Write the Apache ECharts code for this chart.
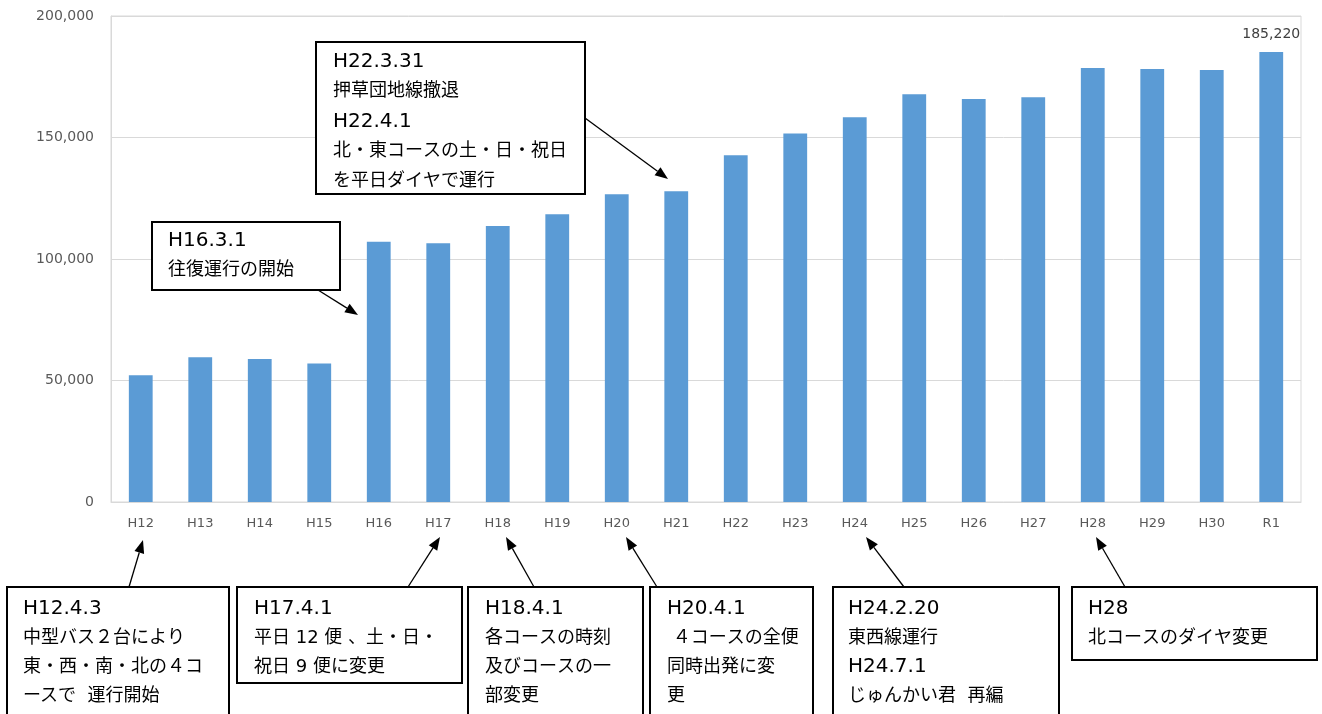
<!DOCTYPE html>
<html><head><meta charset="utf-8">
<script src="https://cdn.jsdelivr.net/npm/echarts@6/dist/echarts.min.js"></script>
<style>html,body{margin:0;padding:0;background:#fff}#c{width:1322px;height:714px}</style>
</head><body><div id="c"></div>
<script>
const categories = ['H12','H13','H14','H15','H16','H17','H18','H19','H20','H21','H22','H23','H24','H25','H26','H27','H28','H29','H30','R1'];
const riders = [52200,59600,58800,57000,107100,106500,113600,118400,126600,127900,142700,151600,158300,167800,165800,166600,178600,178200,177800,185220];
const yTicks = [0,50000,100000,150000,200000];

const JP = '"DejaVu Sans", "Noto Sans CJK JP", sans-serif';
const chart = echarts.init(document.getElementById('c'));

function box(x, y, w, h, lines, tx, ty, lh) {
  const txt = lines.map(l => (/^[A-Z0-9.]+$/.test(l) ? '{h|' : '{n|') + l + '}').join('\n');
  return [
    {type:'rect', shape:{x:x, y:y, width:w, height:h}, style:{fill:'#fff', stroke:'#000', lineWidth:2}, z:10},
    {type:'text', x:tx, y:ty, style:{text:txt, fill:'#000', verticalAlign:'top',
      rich:{
        h:{fontSize:20, fontFamily:'"DejaVu Sans", sans-serif', lineHeight:lh, fill:'#000'},
        n:{fontSize:18, fontFamily:JP, lineHeight:lh, fill:'#000'}
      }}, z:11}
  ];
}
function arrow(x1, y1, x2, y2) {
  const a = Math.atan2(y2 - y1, x2 - x1), L = 13, W = 5;
  const bx = x2 - L * Math.cos(a), by = y2 - L * Math.sin(a);
  const px = -Math.sin(a) * W, py = Math.cos(a) * W;
  return [
    {type:'line', shape:{x1:x1, y1:y1, x2:bx, y2:by}, style:{stroke:'#000', lineWidth:1.3}, z:12},
    {type:'polygon', shape:{points:[[x2,y2],[bx+px,by+py],[bx-px,by-py]]}, style:{fill:'#000'}, z:12}
  ];
}

const graphics = [].concat(
  box(316, 42, 269, 152, ['H22.3.31','押草団地線撤退','H22.4.1','北・東コースの土・日・祝日','を平日ダイヤで運行'], 333, 46.5, 30),
  arrow(585, 118, 668, 179),
  box(152, 222, 188, 68, ['H16.3.1','往復運行の開始'], 168, 226.5, 29),
  arrow(318, 290, 358, 315),
  box(7, 587, 222, 140, ['H12.4.3','中型バス２台により','東・西・南・北の４コ','ースで  運行開始'], 23, 594.5, 29),
  arrow(129, 587, 143, 540),
  box(237, 587, 225, 96, ['H17.4.1','平日 12 便 、土・日・','祝日 9 便に変更'], 254, 594.5, 29),
  arrow(408, 587, 440, 537),
  box(468, 587, 175, 140, ['H18.4.1','各コースの時刻','及びコースの一','部変更'], 485, 594.5, 29),
  arrow(534, 587, 506, 537),
  box(650, 587, 163, 140, ['H20.4.1',' ４コースの全便','同時出発に変','更'], 667, 594.5, 29),
  arrow(657, 587, 626, 537),
  box(833, 587, 226, 140, ['H24.2.20','東西線運行','H24.7.1','じゅんかい君  再編'], 848, 594.5, 29),
  arrow(904, 587, 866, 537),
  box(1072, 587, 245, 73, ['H28','北コースのダイヤ変更'], 1088, 594.5, 29),
  arrow(1125, 587, 1096, 537)
);

chart.setOption({
  animation: false,
  grid: {left:111, right:21, top:16, bottom:212, show:true, borderColor:'#d9d9d9', borderWidth:1},
  xAxis: {
    type:'category', data:categories,
    axisLine:{lineStyle:{color:'#d9d9d9'}}, axisTick:{show:false},
    axisLabel:{color:'#595959', fontSize:13, fontFamily:'"DejaVu Sans", sans-serif', margin:15}
  },
  yAxis: {
    type:'value', min:yTicks[0], max:yTicks[yTicks.length-1], interval:50000,
    axisLine:{show:true, lineStyle:{color:'#d9d9d9'}}, axisTick:{show:false},
    splitLine:{lineStyle:{color:'#d9d9d9'}},
    axisLabel:{color:'#595959', fontSize:14, fontFamily:'"DejaVu Sans", sans-serif', margin:17,
      formatter: v => v.toLocaleString('en-US')}
  },
  series: [{
    type:'bar', barWidth:'40%',
    itemStyle:{color:'#5B9BD5'},
    data: riders.map((v, i) => i === riders.length - 1
      ? {value:v, label:{show:true, position:'top', distance:11, color:'#404040', fontSize:14,
          fontFamily:'"DejaVu Sans", sans-serif', formatter: p => p.value.toLocaleString('en-US')}}
      : v)
  }],
  graphic: graphics
});
</script>
</body></html>
